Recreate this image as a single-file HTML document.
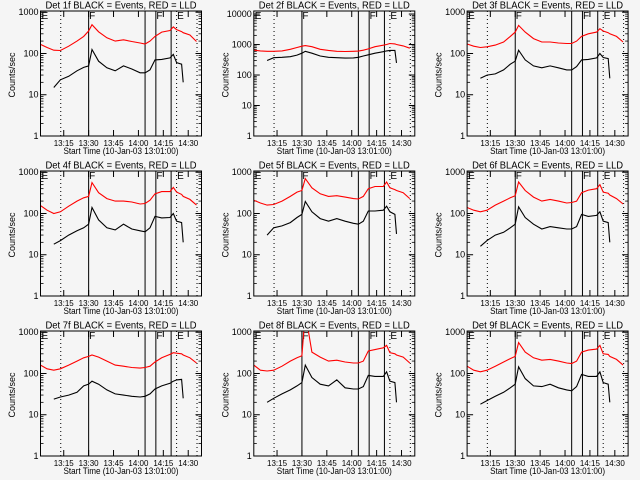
<!DOCTYPE html>
<html><head><meta charset="utf-8"><style>
html,body{margin:0;padding:0;background:#f5f5f5;}
svg{display:block;font-family:"Liberation Sans",sans-serif;}
</style></head><body>
<svg id="chart" width="640" height="480" viewBox="0 0 640 480" xmlns="http://www.w3.org/2000/svg">
<rect x="0" y="0" width="640" height="480" fill="#f5f5f5"/>
</svg>
<script>
const times = [0,4,8,12,17,22,26,29,31,35,40,45,50,55,60,63,66,69,73,78,80,82,85,86,90,94];
const detNames = ["1f","2f","3f","4f","5f","6f","7f","8f","9f"];
const red1 = [166,140,120,118,150,200,260,350,500,335,240,200,215,195,180,170,200,260,330,360,440,380,340,320,280,195];
const blk1 = [null,null,15,23,28,38,46,50,125,65,45,38,50,42,34,34,40,70,72,78,95,60,55,20,null,null];
const red2 = [650,620,600,600,620,700,800,880,920,850,700,640,600,590,600,610,650,720,850,950,1000,1080,1050,1000,900,760];
const blk2 = [null,null,300,370,380,400,450,520,600,520,420,380,370,360,365,380,420,460,520,580,620,640,640,250,null,null];
const red3 = [170,150,140,145,160,190,260,330,480,330,230,190,190,180,175,175,200,260,300,330,400,350,320,300,260,190];
const blk3 = [null,null,25,30,32,40,55,65,120,70,50,45,50,45,40,40,48,70,72,78,100,80,75,25,null,null];
const red4 = [155,120,100,110,150,200,240,260,560,320,230,200,200,190,170,175,210,300,340,340,430,330,290,260,220,160];
const blk4 = [null,null,18,22,30,38,45,55,140,70,45,40,55,42,38,36,45,85,78,80,100,65,60,20,null,null];
const red5 = [210,180,160,165,200,260,330,360,700,420,300,260,270,250,230,225,260,400,450,450,580,420,380,360,320,230];
const blk5 = [null,null,30,45,50,60,80,95,195,110,75,65,75,65,58,55,65,115,115,120,150,110,95,32,null,null];
const red6 = [140,120,110,120,160,200,240,270,580,360,250,200,220,200,180,185,200,320,370,400,500,330,310,280,230,170];
const blk6 = [null,null,16,22,30,35,45,55,145,80,55,42,48,45,42,42,48,95,85,90,110,65,60,20,null,null];
const red7 = [160,130,120,130,160,200,240,260,280,250,200,160,150,140,135,140,150,190,240,290,320,310,300,280,240,180];
const blk7 = [null,null,24,27,30,35,50,55,65,55,40,32,30,28,27,28,32,42,50,58,65,70,72,25,null,null];
const red8 = [160,120,115,120,150,200,240,270,3000,330,250,200,210,190,180,180,200,350,380,420,480,320,300,280,250,180];
const blk8 = [null,null,20,25,32,40,50,60,160,80,55,50,70,45,42,42,48,90,85,85,110,65,60,20,null,null];
const red9 = [150,120,110,120,150,190,230,260,560,330,240,210,220,200,180,175,200,330,370,390,480,300,290,260,220,160];
const blk9 = [null,null,18,22,28,35,45,55,145,75,50,48,55,45,40,38,48,95,85,85,110,60,55,20,null,null];
const redSeries = [red1,red2,red3,red4,red5,red6,red7,red8,red9];
const blkSeries = [blk1,blk2,blk3,blk4,blk5,blk6,blk7,blk8,blk9];
const xTickTimes = [14,29,44,59,74,89];
const xTickLabels = ["13:15","13:30","13:45","14:00","14:15","14:30"];
const solidLines = [29,63,69.5,78.7];
const dottedLines = [12.2,82,94.3];
const tagTimes = [0.6,29.3,69.8,82.3];
const tagLabels = ["E","F","F","E"];

const NS="http://www.w3.org/2000/svg";
const svg=document.getElementById('chart');
function mk(tag,attrs,parent){const e=document.createElementNS(NS,tag);for(const k in attrs)e.setAttribute(k,attrs[k]);(parent||svg).appendChild(e);return e;}

for(let p=0;p<9;p++){
  const col=p%3,row=Math.floor(p/3);
  const ox=col*213.3, oy=row*160;
  const X0=ox+40.5, X1=ox+201.5, Y0=oy+11, Y1=oy+136;
  const ymaxLog = (p===1)?4.1:3.03;
  const xs=t=>X0+(t/97)*(X1-X0);
  const ys=v=>Y1-(Math.log10(v)/ymaxLog)*(Y1-Y0);
  const g=mk('g',{});
  
  
  const clipId='clip'+p;
  const cp=mk('clipPath',{id:clipId},g);
  mk('rect',{x:X0,y:Y0,width:X1-X0,height:Y1-Y0},cp);
  const title=mk('text',{x:(X0+X1)/2,y:oy+8.5,'text-anchor':'middle','font-size':'10',textLength:'151',lengthAdjust:'spacingAndGlyphs',fill:'#000'},g);
  title.textContent='Det '+detNames[p]+' BLACK = Events, RED = LLD';
  
  
  const yl=mk('text',{x:0,y:0,transform:'translate('+(ox+15)+','+(oy+75)+') rotate(-90)','text-anchor':'middle','font-size':'9',fill:'#000'},g);
  yl.textContent='Counts/sec';
  
  
  const xl=mk('text',{x:(X0+X1)/2,y:oy+154,'text-anchor':'middle','font-size':'9.5',textLength:'115',lengthAdjust:'spacingAndGlyphs',fill:'#000'},g);
  xl.textContent='Start Time (10-Jan-03 13:01:00)';
  
  
  const nDec=Math.floor(ymaxLog);
  for(let d=0;d<=nDec;d++){
    const y=ys(Math.pow(10,d));
    mk('line',{x1:X0,x2:X0+6,y1:y,y2:y,stroke:'#000','stroke-width':1},g);
    mk('line',{x1:X1,x2:X1-6,y1:y,y2:y,stroke:'#000','stroke-width':1},g);
    const tl=mk('text',{x:X0-2,y:y+3,'text-anchor':'end','font-size':'9',fill:'#000'},g);
    tl.textContent=String(Math.pow(10,d));
    
    
    for(let m=2;m<=9;m++){
      const v=m*Math.pow(10,d); if(Math.log10(v)>ymaxLog)break;
      const ym=ys(v);
      mk('line',{x1:X0,x2:X0+3,y1:ym,y2:ym,stroke:'#000','stroke-width':0.8},g);
      mk('line',{x1:X1,x2:X1-3,y1:ym,y2:ym,stroke:'#000','stroke-width':0.8},g);
    }
  }
  for(let i=0;i<xTickTimes.length;i++){
    const x=xs(xTickTimes[i]);
    mk('line',{x1:x,x2:x,y1:Y1,y2:Y1-6,stroke:'#000','stroke-width':1},g);
    mk('line',{x1:x,x2:x,y1:Y0,y2:Y0+6,stroke:'#000','stroke-width':1},g);
    const tl=mk('text',{x:x,y:oy+146,'text-anchor':'middle','font-size':'8.5',textLength:'20',lengthAdjust:'spacingAndGlyphs',fill:'#000'},g);
    tl.textContent=xTickLabels[i];
    
    
  }
  for(const t of dottedLines){const x=xs(t);
    mk('line',{x1:x,x2:x,y1:Y0,y2:Y1,stroke:'#000','stroke-width':1,'stroke-dasharray':'1,3'},g);}
  for(const t of solidLines){const x=xs(t);
    mk('line',{x1:x,x2:x,y1:Y0,y2:Y1,stroke:'#000','stroke-width':1},g);}
  for(let i=0;i<tagTimes.length;i++){
    const tg=mk('text',{x:xs(tagTimes[i]),y:Y0+8,'font-size':'10',fill:'#000'},g);
    tg.textContent=tagLabels[i];
    
    
  }
  function path(arr,color,name){
    let d='',pen=false;
    for(let i=0;i<times.length;i++){
      const v=arr[i];
      if(v==null){pen=false;continue;}
      d+=(pen?'L':'M')+xs(times[i]).toFixed(1)+','+ys(v).toFixed(1);
      pen=true;
    }
    const pe=mk('path',{d:d,fill:'none',stroke:color,'stroke-width':1.1,'clip-path':'url(#'+clipId+')'},g);
    
    
  }
  path(redSeries[p],'#ff0000','lld-series');
  path(blkSeries[p],'#000000','events-series');
  mk('rect',{x:X0,y:Y0,width:X1-X0,height:Y1-Y0,fill:'none',stroke:'#000','stroke-width':1},g);
}
</script>
</body></html>
